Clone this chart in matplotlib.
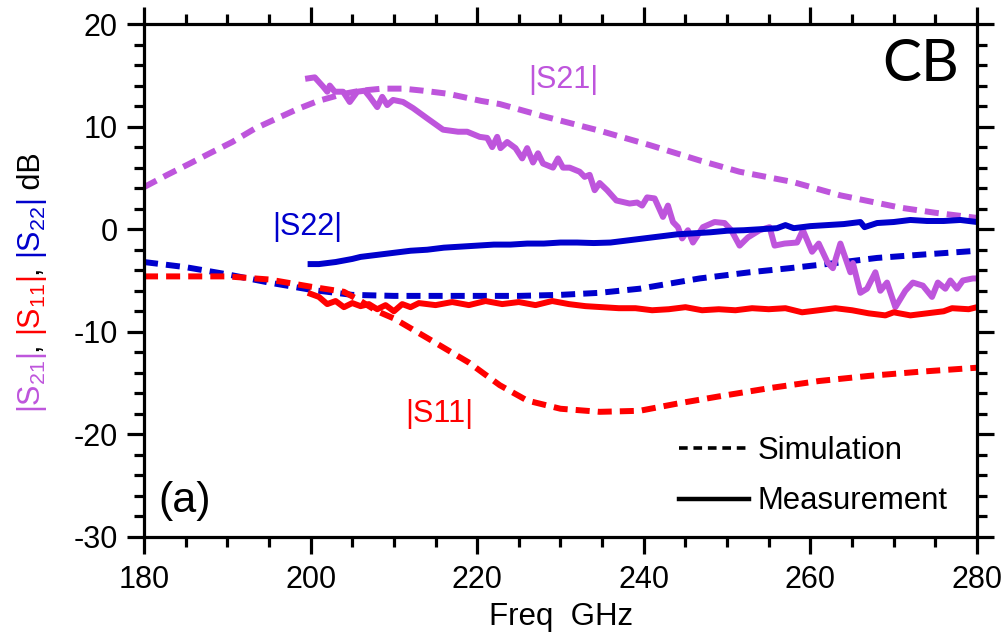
import matplotlib
matplotlib.use('agg')
import matplotlib.pyplot as plt
from matplotlib.lines import Line2D
from matplotlib.ticker import MultipleLocator

plt.rcParams['font.family'] = ['Liberation Sans', 'DejaVu Sans']
plt.rcParams['mathtext.fontset'] = 'custom'
plt.rcParams['mathtext.rm'] = 'Liberation Sans'
plt.rcParams['mathtext.default'] = 'regular'
plt.rcParams['axes.unicode_minus'] = False

# colours of the three S-parameters
c21 = '#BE55DC'
c11 = '#FF0000'
c22 = '#0000CC'

# |S21| simulation
f_s21_sim = [180, 182.8, 185.5, 187.9, 190.6, 193.3, 195.7, 198.4, 200.9, 204, 206, 208.6,
             211.1, 213.5, 216.5, 220.5, 222.7, 228, 234.7, 240.7, 246.7, 251.5, 257.9,
             263.6, 270.8, 275, 280]
s21_sim = [4.1, 5.3, 6.4, 7.4, 8.5, 9.8, 10.7, 11.7, 12.5, 13.2, 13.5, 13.7,
           13.7, 13.5, 13.2, 12.5, 12.2, 11.0, 9.6, 8.2, 6.7, 5.6, 4.6,
           3.3, 2.1, 1.6, 1.1]

# |S21| measurement
f_s21_meas = [199.7, 200.5, 201.5, 202, 202.3, 202.9, 203.9, 204.7, 205.6, 206.5, 207.1, 208,
              208.6, 209.2, 209.9, 211.1, 212.3, 214, 215.9, 217.7, 218.8, 220.3, 221.2, 221.8,
              222.4, 222.8, 223.6, 224.6, 225.4, 226, 226.7, 227.3, 227.9, 229.1, 229.7, 230.3,
              231.1, 232.3, 232.9, 233.5, 234.1, 234.7, 235.6, 236.7, 238.3, 239.2, 239.8, 240.4,
              241.3, 242.3, 242.9, 243.5, 244.1, 244.6, 245.3, 245.9, 247.1, 248.5, 249.7, 250.5,
              251.5, 252.5, 253.9, 255.1, 255.7, 256.9, 258.4, 259.1, 260.2, 261, 262.1, 262.7,
              263.6, 264.8, 265.1, 266, 266.8, 267.8, 268.4, 269.2, 270.2, 271.4, 272.3, 273.5,
              274.6, 275.3, 276.2, 276.8, 277.6, 278.3, 279.5, 280]
s21_meas = [14.7, 14.8, 13.9, 13.4, 14.0, 13.4, 13.4, 12.4, 13.4, 13.5, 12.9, 11.9,
            12.9, 12.1, 12.6, 12.4, 11.8, 10.8, 9.7, 9.5, 9.5, 9.0, 8.9, 8.0,
            9.0, 7.9, 8.5, 7.9, 6.9, 7.9, 6.5, 7.4, 6.4, 6.0, 6.9, 6.0,
            6.0, 5.6, 5.1, 5.3, 3.8, 4.5, 3.8, 2.8, 2.5, 2.6, 2.3, 3.1,
            3.0, 1.2, 2.3, 0.7, 0.2, -0.9, -0.1, -1.3, 0.2, 0.7, 0.6, -0.1,
            -1.6, -0.8, -0.1, 0.2, -1.6, -1.4, -1.3, -0.1, -2.2, -1.4, -3.3, -3.8,
            -1.4, -4.2, -3.3, -6.2, -5.8, -4.2, -6.0, -5.2, -7.6, -6.0, -5.2, -5.5,
            -6.6, -5.2, -5.8, -5.0, -5.8, -5.0, -4.8, -4.8]

# |S22| simulation
f_s22_sim = [180, 185, 190, 195, 200, 205, 210, 215, 220, 225, 230, 234.7, 239.5, 246.7,
             252.7, 257.5, 263, 268, 273, 278.3, 280]
s22_sim = [-3.2, -3.7, -4.4, -5.2, -5.9, -6.4, -6.5, -6.5, -6.5, -6.5, -6.4, -6.2, -5.8, -4.8,
           -4.2, -3.8, -3.3, -2.8, -2.5, -2.2, -2.1]

# |S22| measurement
f_s22_meas = [200, 201, 203, 205, 206, 208, 210, 212, 214, 216, 218, 220, 222, 224, 226, 228,
              230, 232, 234, 236, 238, 240, 242, 244, 246, 248, 250, 252, 254, 256, 257, 258,
              260, 262, 264, 266, 266.5, 268, 270, 272, 274, 276, 278, 280]
s22_meas = [-3.4, -3.4, -3.2, -2.9, -2.7, -2.5, -2.3, -2.1, -2.0, -1.8, -1.7, -1.6, -1.5, -1.5,
            -1.4, -1.4, -1.3, -1.3, -1.35, -1.3, -1.1, -0.9, -0.7, -0.5, -0.4, -0.3, -0.15,
            -0.1, 0.0, 0.1, 0.4, 0.1, 0.3, 0.4, 0.5, 0.7, 0.2, 0.6, 0.7, 0.9, 0.8, 0.8, 0.9, 0.7]

# |S11| simulation
f_s11_sim = [180, 185, 190, 195, 200, 204, 206, 208, 210, 214, 219, 222.7, 226, 230, 234.7,
             239.5, 244, 249, 255, 261, 267, 273, 280]
s11_sim = [-4.6, -4.6, -4.6, -4.9, -5.6, -6.1, -7.0, -8.0, -8.7, -10.6, -13.0, -15.2, -16.7,
           -17.5, -17.8, -17.7, -17.0, -16.3, -15.5, -14.8, -14.3, -13.9, -13.5]

# |S11| measurement
f_s11_meas = [200, 201, 202, 203, 204, 205, 206, 207, 208, 209, 210, 211, 212, 213, 215, 217,
              219, 221, 223, 225, 227, 229, 231, 233, 235, 237, 239, 241, 243, 245, 247, 249,
              251, 253, 255, 257, 259, 261, 263, 265, 267, 269, 270, 272, 274, 276, 277, 279, 280]
s11_meas = [-6.3, -6.6, -7.3, -7.0, -7.6, -7.2, -7.5, -7.3, -7.8, -7.4, -8.0, -7.3, -7.6, -7.2,
            -7.4, -7.1, -7.4, -7.0, -7.3, -7.1, -7.4, -7.0, -7.3, -7.5, -7.6, -7.7, -7.7, -7.9,
            -7.8, -7.6, -7.9, -7.8, -7.9, -7.7, -7.8, -7.7, -8.1, -7.9, -7.7, -7.9, -8.2, -8.4,
            -8.1, -8.4, -8.2, -8.0, -7.7, -7.8, -7.6]

W, H = 1005, 634
fig = plt.figure(figsize=(W / 100, H / 100), dpi=100)
ax = fig.add_axes([144 / W, 1 - 537 / H, 833 / W, 513 / H])

lw = 4.3
dash = (2.35, 1.35)
ax.plot(f_s21_sim, s21_sim, color=c21, lw=lw, dashes=dash)
ax.plot(f_s22_sim, s22_sim, color=c22, lw=lw, dashes=dash)
ax.plot(f_s11_sim, s11_sim, color=c11, lw=lw, dashes=dash)
ax.plot(f_s21_meas, s21_meas, color=c21, lw=lw)
ax.plot(f_s22_meas, s22_meas, color=c22, lw=lw)
ax.plot(f_s11_meas, s11_meas, color=c11, lw=lw)

ax.set_xlim(180, 280)
ax.set_ylim(-30, 20)
ax.xaxis.set_major_locator(MultipleLocator(20))
ax.xaxis.set_minor_locator(MultipleLocator(5))
ax.yaxis.set_major_locator(MultipleLocator(10))
ax.yaxis.set_minor_locator(MultipleLocator(2))
for sp in ax.spines.values():
    sp.set_linewidth(2.3)
ax.tick_params(which='both', direction='out', top=True, right=True, width=2.3,
               labelsize=22)
ax.tick_params(which='major', length=12)
ax.tick_params(which='minor', length=7)
ax.tick_params(axis='x', pad=8)
ax.tick_params(axis='y', pad=7)

ax.set_xlabel('Freq  GHz', fontsize=22.5, labelpad=5)

# curve labels
ax.text(230.4, 14.5, '|S21|', color=c21, fontsize=22, ha='center', va='center')
ax.text(199.6, 0.2, '|S22|', color=c22, fontsize=22, ha='center', va='center')
ax.text(215.4, -18.0, '|S11|', color=c11, fontsize=22, ha='center', va='center')
ax.text(0.978, 0.922, 'CB', transform=ax.transAxes, fontsize=42,
        family=['Lato', 'DejaVu Sans'], ha='right', va='center')
ax.text(0.017, 0.07, '(a)', transform=ax.transAxes, fontsize=31, ha='left', va='center')

handles = [Line2D([], [], color='black', lw=2.6, dashes=(2.4, 1.6)),
           Line2D([], [], color='black', lw=3.2)]
ax.legend(handles, ['Simulation', 'Measurement'], loc='lower left',
          bbox_to_anchor=(0.642, 0.04), frameon=False, fontsize=22.3,
          borderpad=0, borderaxespad=0, handlelength=2.27, handletextpad=0.26,
          labelspacing=0.66)

# multi-coloured y label, built piece by piece along a rotated baseline
fig.canvas.draw()
rend = fig.canvas.get_renderer()
pieces = [('|S$_{21}$|', c21), (', ', 'black'), ('|S$_{11}$|', c11),
          (', ', 'black'), ('|S$_{22}$|', c22), (' dB', 'black')]
ylab_size = 22


def advance(s):
    t1 = fig.text(0, 0, s + '|', fontsize=ylab_size)
    t2 = fig.text(0, 0, '|', fontsize=ylab_size)
    w = t1.get_window_extent(rend).width - t2.get_window_extent(rend).width
    t1.remove()
    t2.remove()
    return w


widths = [advance(s) for s, _ in pieces]
y = (H - 283) - sum(widths) / 2
for (s, c), w in zip(pieces, widths):
    fig.text(40 / W, y / H, s, color=c, fontsize=ylab_size, rotation=90,
             rotation_mode='anchor', ha='left', va='baseline')
    y += w

fig.savefig('out.png', dpi=100)
